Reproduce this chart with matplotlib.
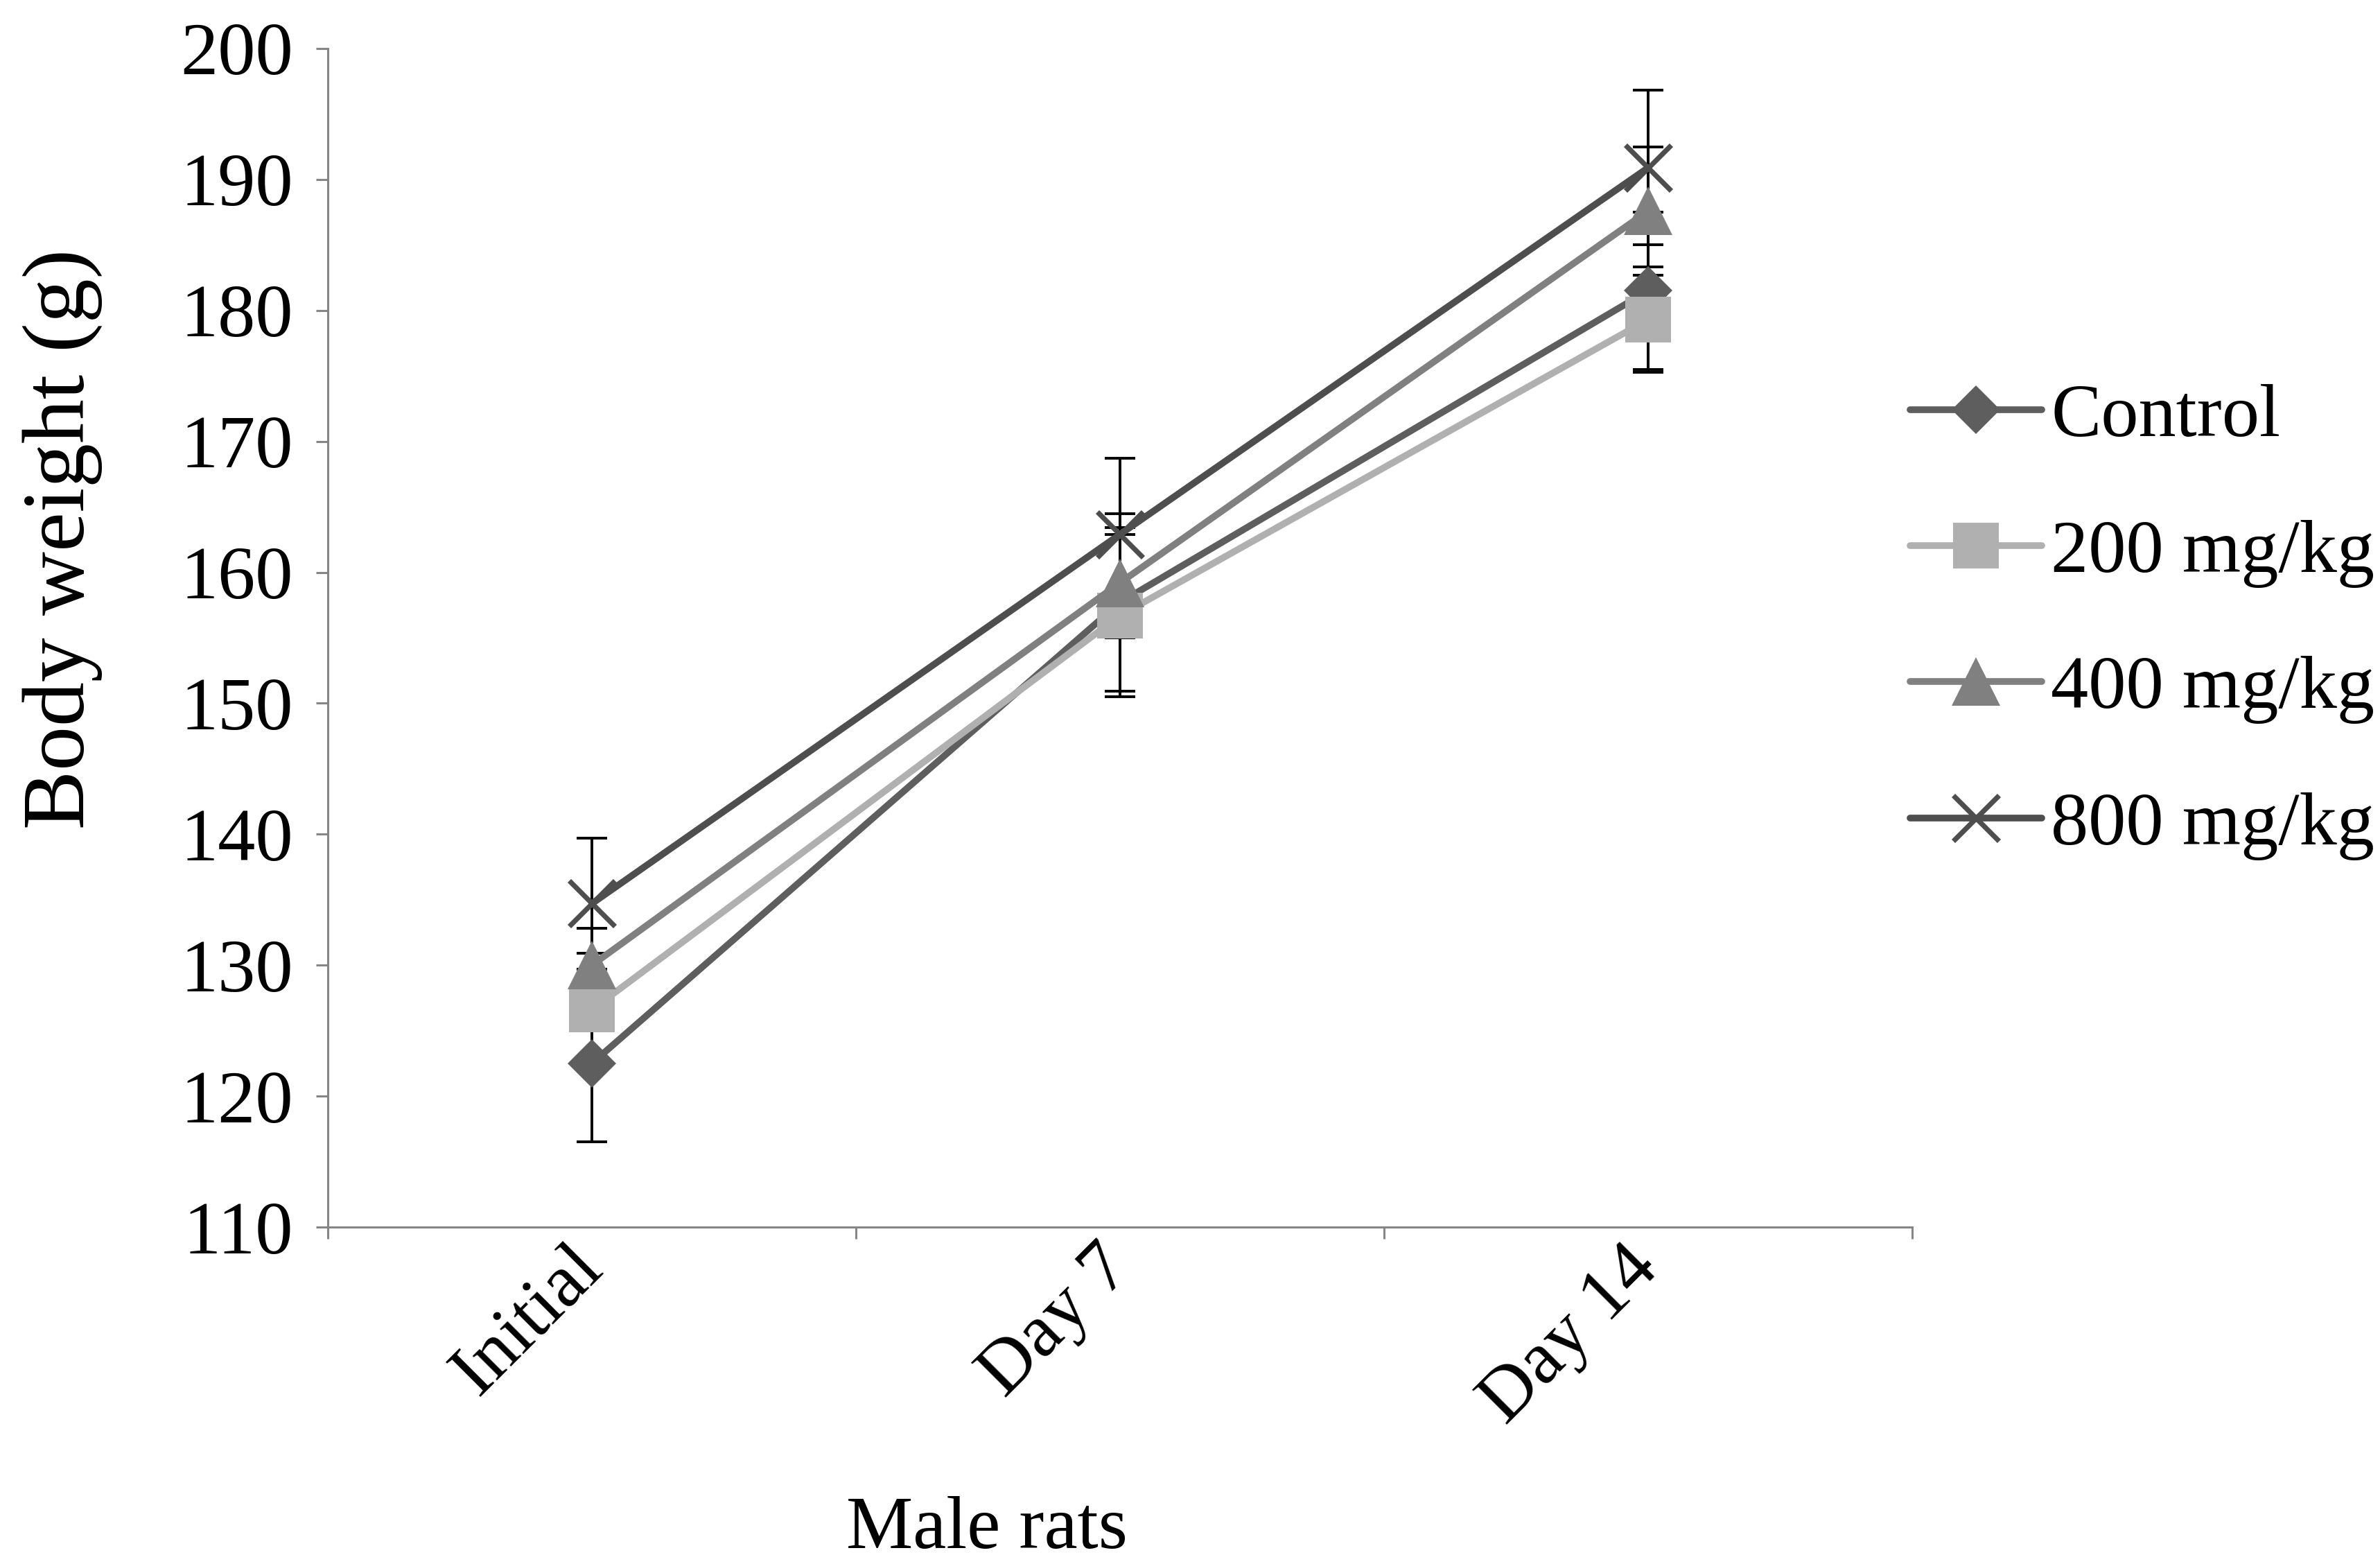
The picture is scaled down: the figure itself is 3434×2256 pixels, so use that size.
import matplotlib
matplotlib.use("Agg")
import matplotlib.pyplot as plt
import numpy as np

plt.rcParams['font.family'] = ['Liberation Serif', 'DejaVu Serif']

categories = ["Initial", "Day 7", "Day 14"]
series_names = ["Control", "200 mg/kg", "400 mg/kg", "800 mg/kg"]

control = [122.5, 157.7, 181.5]
control_err = [6.0, 6.8, 6.0]
dose200 = [126.6, 156.7, 179.3]
dose200_err = [4.3, 6.2, 4.0]
dose400 = [130.0, 159.2, 187.6]
dose400_err = [2.8, 4.2, 4.9]
dose800 = [134.7, 162.9, 190.9]
dose800_err = [5.0, 5.8, 5.9]

yticks = [110, 120, 130, 140, 150, 160, 170, 180, 190, 200]

values = [control, dose200, dose400, dose800]
errors = [control_err, dose200_err, dose400_err, dose800_err]
colors = ["#5e5e5e", "#b0b0b0", "#808080", "#4e4e4e"]
markers = ["D", "s", "^", "x"]
msizes = [18, 24, 25, 24]

fig = plt.figure(figsize=(17.17, 11.28), dpi=200)
ax = fig.add_axes([0.1377, 0.2154, 0.8035 - 0.1377, 0.969 - 0.2154])

x = np.arange(len(categories))
for vals, errs in zip(values, errors):
    ax.errorbar(x, vals, yerr=errs, fmt='none', ecolor='black',
                elinewidth=1.4, capsize=8, capthick=1.4, zorder=2)

handles = []
for i, (vals, name) in enumerate(zip(values, series_names)):
    if markers[i] == 'x':
        ln, = ax.plot(x, vals, color=colors[i], lw=3.5, marker='x',
                      ms=msizes[i], mew=2.6, mec=colors[i], label=name,
                      zorder=3 + i, solid_capstyle='round')
    else:
        ln, = ax.plot(x, vals, color=colors[i], lw=3.5, marker=markers[i],
                      ms=msizes[i], mfc=colors[i], mec=colors[i], mew=0,
                      label=name, zorder=3 + i, solid_capstyle='round')
    handles.append(ln)

FS = 39
ax.set_xlim(-0.5, 2.5)
ax.set_ylim(110, 200)
ax.set_yticks(yticks)
ax.set_yticklabels([str(t) for t in yticks], fontsize=FS)

ax.set_xticks([-0.5, 0.5, 1.5, 2.5])
ax.set_xticklabels([])
ax.set_xticks(x, minor=True)
ax.set_xticklabels(categories, minor=True, rotation=45, ha='right',
                   va='center', rotation_mode='anchor', fontsize=FS)
ax.tick_params(axis='x', which='minor', length=0, pad=16)
ax.tick_params(axis='x', which='major', direction='out', length=6,
               width=1.1, color='#868686')
ax.tick_params(axis='y', direction='out', length=6, width=1.1,
               color='#868686', pad=12)

for s in ['top', 'right']:
    ax.spines[s].set_visible(False)
for s in ['left', 'bottom']:
    ax.spines[s].set_color('#868686')
    ax.spines[s].set_linewidth(1.1)

ax.set_ylabel("Body weight (g)", fontsize=46)
ax.yaxis.set_label_coords(-0.142, 0.584)
ax.set_xlabel("Male rats", fontsize=FS)
ax.xaxis.set_label_coords(0.416, -0.228)

leg = fig.legend(handles=handles, labels=series_names, loc='upper left',
                 bbox_to_anchor=(0.8025, 0.755), frameon=False, fontsize=FS,
                 handlelength=1.76, handletextpad=0.12, labelspacing=0.90,
                 borderpad=0, borderaxespad=0)

fig.savefig("out.png", dpi=200, facecolor='white')
